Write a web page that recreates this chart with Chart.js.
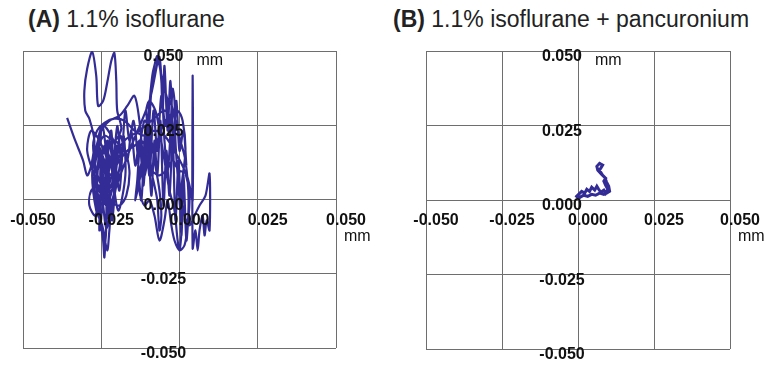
<!DOCTYPE html>
<html>
<head>
<meta charset="utf-8">
<script src="https://cdn.jsdelivr.net/npm/chart.js@4/dist/chart.umd.min.js"></script>
<style>
  body { margin: 0; background: #fff; }
  #wrap { position: relative; width: 773px; height: 369px; overflow: hidden; }
  canvas { position: absolute; top: 0; }
  .ttl { position: absolute; top: 6px; font-family: "Liberation Sans", Arial, sans-serif; font-size: 23px; color: #222; white-space: nowrap; }
</style>
</head>
<body>
<div id="wrap">
  <div class="ttl" style="left:28px"><b>(A)</b> 1.1% isoflurane</div>
  <div class="ttl" style="left:393px"><b>(B)</b> 1.1% isoflurane + pancuronium</div>
  <canvas id="chartA" width="386" height="369" style="left:0"></canvas>
  <canvas id="chartB" width="387" height="369" style="left:386px"></canvas>
</div>
<script>
// axis ticks (mm)
const tickVals = [-0.05, -0.025, 0, 0.025, 0.05];
const tickLabels = ['-0.050', '-0.025', '0.000', '0.025', '0.050'];

// (A) 1.1% isoflurane - displacement trace, mm
const xA = [-0.0359, -0.0333, -0.0308, -0.0295, -0.0282, -0.0272, -0.0288, -0.0301, -0.0304, -0.0295,
  -0.0279, -0.0266, -0.0260, -0.0244, -0.0231, -0.0218, -0.0208, -0.0202, -0.0199, -0.0186,
  -0.0208, -0.0240, -0.0263, -0.0272, -0.0256, -0.0244, -0.0240, -0.0234, -0.0224, -0.0231,
  -0.0256, -0.0282, -0.0295, -0.0272, -0.0247, -0.0218, -0.0199, -0.0176, -0.0160, -0.0170,
  -0.0192, -0.0224, -0.0256, -0.0272, -0.0250, -0.0224, -0.0192, -0.0167, -0.0144, -0.0128,
  -0.0119, -0.0112, -0.0103, -0.0096, -0.0090, -0.0080, -0.0071, -0.0061, -0.0054, -0.0048,
  -0.0038, -0.0032, -0.0026, -0.0022, -0.0016, -0.0013, -0.0006, 0.0000, 0.0006, 0.0000,
  -0.0006, -0.0016, -0.0032, -0.0048, -0.0064, -0.0077, -0.0096, -0.0106, -0.0096, -0.0090,
  -0.0080, -0.0071, -0.0064, -0.0058, -0.0064, -0.0080, -0.0096, -0.0112, -0.0128, -0.0135,
  -0.0141, -0.0128, -0.0109, -0.0087, -0.0071, -0.0051, -0.0038, -0.0032, -0.0019, 0.0000,
  0.0019, 0.0032, 0.0042, 0.0042, 0.0042, 0.0051, 0.0058, 0.0064, 0.0074, 0.0080,
  0.0087, 0.0096, 0.0096, 0.0083, 0.0064, 0.0048, 0.0032, 0.0016, 0.0006, 0.0019,
  0.0010, -0.0006, -0.0032, -0.0054, -0.0071, -0.0096, -0.0122, -0.0144, -0.0167, -0.0192,
  -0.0224, -0.0240, -0.0260, -0.0244, -0.0218, -0.0202, -0.0212, -0.0231, -0.0244, -0.0256,
  -0.0266, -0.0253, -0.0231, -0.0205, -0.0186, -0.0199, -0.0218, -0.0234, -0.0244, -0.0256,
  -0.0282, -0.0288, -0.0269, -0.0250, -0.0224, -0.0176, -0.0128, -0.0090, -0.0048, -0.0026,
  -0.0016, -0.0032, -0.0064, -0.0096, -0.0119, -0.0128, -0.0112, -0.0096, -0.0080, -0.0064,
  -0.0048, -0.0038, -0.0026, -0.0016, 0.0000, 0.0016, 0.0026, 0.0032, 0.0016, -0.0016,
  -0.0048, -0.0080, -0.0112, -0.0144, -0.0176, -0.0208, -0.0240, -0.0263, -0.0276, -0.0263,
  -0.0250, -0.0240, -0.0231, -0.0224, -0.0244, -0.0256, -0.0237, -0.0218, -0.0208, -0.0199,
  -0.0215, -0.0228, -0.0247, -0.0263, -0.0237, -0.0231, -0.0212, -0.0192, -0.0179, -0.0173,
  -0.0196, -0.0221, -0.0240, -0.0253, -0.0234, -0.0205, -0.0189, -0.0167, -0.0154, -0.0141,
  -0.0128, -0.0115, -0.0103, -0.0090, -0.0080, -0.0071, -0.0061, -0.0051, -0.0042, -0.0032,
  -0.0022, -0.0013, -0.0003, 0.0006, 0.0013, 0.0022, 0.0029, 0.0019, 0.0003, -0.0013,
  -0.0032, -0.0045, -0.0058, -0.0071, -0.0083, -0.0096, -0.0109, -0.0122, -0.0135, -0.0147,
  -0.0160, -0.0173, -0.0186, -0.0199, -0.0212, -0.0224, -0.0237, -0.0250, -0.0266, -0.0279,
  -0.0266, -0.0247, -0.0231, -0.0224, -0.0215, -0.0160, -0.0096, -0.0064, -0.0054, -0.0048,
  -0.0038, -0.0029, -0.0019, -0.0010, 0.0000, 0.0013, 0.0022];
const yA = [0.0275, 0.0198, 0.0131, 0.0081, 0.0114, 0.0198, 0.0272, 0.0299, 0.0366, 0.0440,
  0.0497, 0.0416, 0.0315, 0.0332, 0.0393, 0.0466, 0.0493, 0.0399, 0.0299, 0.0238,
  0.0198, 0.0215, 0.0164, 0.0047, -0.0054, -0.0138, -0.0195, -0.0087, 0.0030, 0.0131,
  0.0198, 0.0232, 0.0164, 0.0081, 0.0013, 0.0047, 0.0131, 0.0164, 0.0097, 0.0013,
  -0.0020, -0.0003, 0.0064, 0.0131, 0.0232, 0.0265, 0.0282, 0.0315, 0.0349, 0.0265,
  0.0164, 0.0081, 0.0131, 0.0265, 0.0366, 0.0450, 0.0483, 0.0433, 0.0332, 0.0198,
  0.0097, 0.0164, 0.0299, 0.0373, 0.0332, 0.0198, 0.0081, -0.0003, -0.0104, -0.0171,
  -0.0138, -0.0037, 0.0030, 0.0131, 0.0232, 0.0299, 0.0332, 0.0299, 0.0198, 0.0097,
  0.0047, -0.0003, -0.0104, -0.0054, 0.0030, 0.0131, 0.0232, 0.0265, 0.0164, 0.0064,
  -0.0003, 0.0064, 0.0164, 0.0416, 0.0473, 0.0383, 0.0332, 0.0232, 0.0131, 0.0097,
  0.0091, 0.0047, -0.0003, 0.0416, -0.0164, -0.0104, -0.0171, -0.0104, -0.0054, -0.0121,
  -0.0070, -0.0104, 0.0087, 0.0013, -0.0020, -0.0054, -0.0087, -0.0054, 0.0030, 0.0164,
  0.0265, 0.0299, 0.0282, 0.0248, 0.0198, 0.0164, 0.0198, 0.0181, 0.0164, 0.0131,
  0.0081, 0.0131, 0.0198, 0.0248, 0.0215, 0.0164, 0.0097, 0.0030, -0.0020, -0.0003,
  0.0064, 0.0131, 0.0181, 0.0198, 0.0164, 0.0064, -0.0037, -0.0097, -0.0020, 0.0047,
  0.0030, -0.0020, -0.0054, 0.0030, 0.0114, 0.0198, 0.0232, 0.0265, 0.0299, 0.0265,
  0.0181, 0.0114, 0.0081, 0.0104, 0.0131, 0.0030, -0.0020, -0.0003, -0.0054, -0.0138,
  -0.0070, -0.0003, -0.0087, -0.0138, -0.0171, -0.0154, -0.0087, 0.0013, 0.0097, 0.0164,
  0.0215, 0.0232, 0.0215, 0.0232, 0.0265, 0.0272, 0.0258, 0.0232, 0.0181, 0.0097,
  0.0164, -0.0003, 0.0198, -0.0054, 0.0131, -0.0104, 0.0064, 0.0232, 0.0013, 0.0181,
  -0.0070, 0.0097, 0.0248, 0.0013, -0.0138, 0.0047, 0.0164, 0.0030, 0.0215, 0.0081,
  -0.0037, 0.0131, 0.0181, 0.0081, -0.0020, 0.0081, 0.0215, 0.0131, 0.0232, 0.0114,
  0.0198, 0.0047, 0.0248, 0.0013, 0.0198, 0.0081, 0.0265, -0.0020, 0.0164, 0.0013,
  0.0215, -0.0070, 0.0131, -0.0121, 0.0081, -0.0138, -0.0003, 0.0131, 0.0198, 0.0265,
  0.0332, 0.0248, 0.0349, 0.0164, 0.0299, 0.0081, 0.0232, -0.0003, 0.0164, 0.0265,
  0.0198, 0.0299, 0.0131, 0.0248, 0.0114, 0.0198, 0.0030, 0.0097, 0.0164, 0.0081,
  -0.0037, -0.0087, -0.0171, -0.0104, -0.0003, 0.0164, 0.0332, 0.0480, 0.0299, 0.0450,
  0.0232, 0.0399, 0.0198, 0.0332, 0.0164, 0.0232, 0.0114];

// (B) 1.1% isoflurane + pancuronium - displacement trace, mm
const xB = [-0.0008, 0.0002, 0.0012, 0.0022, 0.0029, 0.0038, 0.0045, 0.0055, 0.0062, 0.0068,
  0.0075, 0.0085, 0.0091, 0.0098, 0.0091, 0.0085, 0.0091, 0.0081, 0.0075, 0.0065,
  0.0062, 0.0071, 0.0081, 0.0075, 0.0068, 0.0078, 0.0088, 0.0094, 0.0101, 0.0104,
  0.0094, 0.0085, 0.0071, 0.0058, 0.0045, 0.0032, 0.0019, 0.0006, -0.0001];
const yB = [0.0009, 0.0019, 0.0029, 0.0023, 0.0036, 0.0029, 0.0043, 0.0033, 0.0046, 0.0036,
  0.0026, 0.0033, 0.0023, 0.0036, 0.0049, 0.0063, 0.0073, 0.0083, 0.0093, 0.0100,
  0.0113, 0.0123, 0.0117, 0.0107, 0.0097, 0.0086, 0.0076, 0.0060, 0.0046, 0.0029,
  0.0023, 0.0019, 0.0023, 0.0016, 0.0019, 0.0012, 0.0016, 0.0009, 0.0002];

const traceColor = '#332c96';
const gridColor = '#6e6e6e';

const axisLabels = {
  id: 'axisLabels',
  afterDraw(chart) {
    const { ctx, scales: { x, y } } = chart;
    const x0 = x.getPixelForValue(0);
    const y0 = y.getPixelForValue(0);
    ctx.save();
    ctx.fillStyle = '#111';
    ctx.font = 'bold 16px "Liberation Sans", Arial, sans-serif';
    ctx.textAlign = 'center';
    ctx.textBaseline = 'middle';
    tickVals.forEach((v, i) => {
      ctx.fillText(tickLabels[i], x.getPixelForValue(v) + 10, y0 + 21);
      ctx.fillText(tickLabels[i], x0 - 16, y.getPixelForValue(v) + 6);
    });
    ctx.font = '16px "Liberation Sans", Arial, sans-serif';
    ctx.textAlign = 'left';
    ctx.fillText('mm', x0 + 17, y.getPixelForValue(0.05) + 10);
    ctx.fillText('mm', x.getPixelForValue(0.05) + 8, y0 + 37);
    ctx.restore();
  }
};

function makeScale() {
  return {
    type: 'linear',
    min: -0.05,
    max: 0.05,
    afterBuildTicks: s => { s.ticks = tickVals.map(v => ({ value: v })); },
    ticks: { display: false },
    grid: { color: gridColor, lineWidth: 1, drawTicks: false },
    border: { display: false }
  };
}

function makeChart(id, xs, ys, pad, tension, width) {
  new Chart(document.getElementById(id), {
    type: 'scatter',
    data: {
      datasets: [{
        data: xs.map((v, i) => ({ x: v, y: ys[i] })),
        showLine: true,
        borderColor: traceColor,
        borderWidth: width,
        pointRadius: 0,
        tension: tension
      }]
    },
    options: {
      responsive: false,
      animation: false,
      layout: { padding: pad },
      plugins: { legend: { display: false }, tooltip: { enabled: false } },
      scales: { x: makeScale(), y: makeScale() }
    },
    plugins: [axisLabels]
  });
}

makeChart('chartA', xA, yA, { left: 23, right: 50, top: 51, bottom: 21 }, 0.3, 2.2);
makeChart('chartB', xB, yB, { left: 40, right: 43, top: 51, bottom: 20 }, 0, 3);
</script>
</body>
</html>
